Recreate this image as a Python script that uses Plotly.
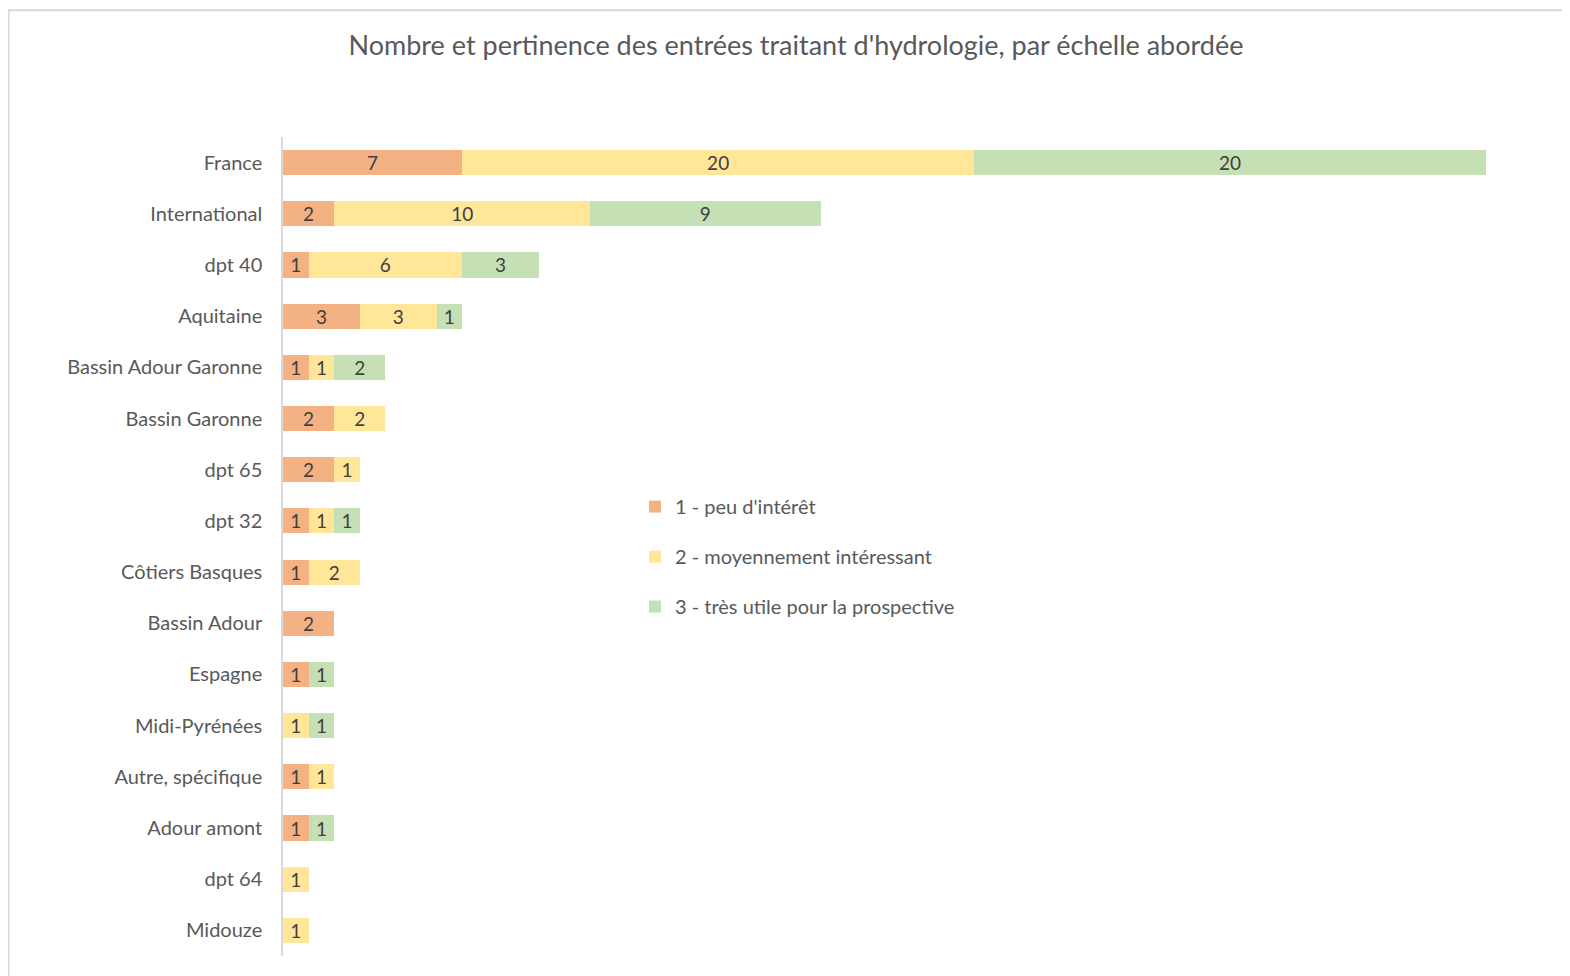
import plotly.graph_objects as go

categories = ["France", "International", "dpt 40", "Aquitaine", "Bassin Adour Garonne",
              "Bassin Garonne", "dpt 65", "dpt 32", "Côtiers Basques", "Bassin Adour",
              "Espagne", "Midi-Pyrénées", "Autre, spécifique", "Adour amont", "dpt 64", "Midouze"]
peu_interet = [7, 2, 1, 3, 1, 2, 2, 1, 1, 2, 1, 0, 1, 1, 0, 0]
moyennement = [20, 10, 6, 3, 1, 2, 1, 1, 2, 0, 0, 1, 1, 0, 1, 1]
tres_utile = [20, 9, 3, 1, 2, 0, 0, 1, 0, 0, 1, 1, 0, 1, 0, 0]
series_names = ["1 - peu d'intérêt", "2 - moyennement intéressant", "3 - très utile pour la prospective"]
series_colors = ["#F4B183", "#FFE699", "#C5E0B4"]

FONT = "Lato"
W, H = 1562, 968
L, R, T, B = 275, 84, 128.5, 19.5
PW, PH = W - L - R, H - T - B

fig = go.Figure()
for name, vals, col in zip(series_names, [peu_interet, moyennement, tres_utile], series_colors):
    fig.add_trace(go.Bar(
        y=categories, x=vals, orientation="h", name=name, legendgroup=name,
        marker=dict(color=col, line=dict(width=0)),
        text=[str(v) if v else "" for v in vals], textposition="inside",
        insidetextanchor="middle", textangle=0, constraintext="none",
        textfont=dict(family=FONT, size=19, color="#404040"),
        hoverinfo="x+y+name",
    ))

fig.update_layout(
    barmode="stack", bargap=0.51,
    width=W, height=H,
    paper_bgcolor="white", plot_bgcolor="white",
    margin=dict(l=L, r=R, t=T, b=B),
    title=dict(text="Nombre et pertinence des entrées traitant d'hydrologie, par échelle abordée",
               xref="container", x=(796 - 8) / W, xanchor="center",
               yref="container", y=1 - 38 / H, yanchor="middle",
               font=dict(family=FONT, size=27, color="#595959")),
    font=dict(family=FONT, size=20, color="#595959"),
    showlegend=True,
    legend=dict(x=(627 - L) / PW, xanchor="left", y=1 - (479 - T) / PH, yanchor="top",
                bgcolor="rgba(0,0,0,0)", tracegroupgap=21, traceorder="grouped",
                font=dict(family=FONT, size=20, color="#595959"), itemwidth=30),
    xaxis=dict(range=[0, 47], visible=False, fixedrange=True),
    yaxis=dict(categoryorder="array", categoryarray=categories[::-1],
               showline=True, linecolor="#D9D9D9", linewidth=1.5,
               ticks="", ticklabelstandoff=15, showgrid=False, zeroline=False,
               tickfont=dict(family=FONT, size=20, color="#595959")),
    shapes=[dict(type="rect", xref="paper", yref="paper",
                 x0=-(L - 0.5) / PW, x1=(W - L + 20) / PW,
                 y0=-(B + 40) / PH, y1=1 + (T - 1.5) / PH,
                 line=dict(color="#D9D9D9", width=2), fillcolor="rgba(0,0,0,0)", layer="below")],
)

fig.write_html("out.html")
